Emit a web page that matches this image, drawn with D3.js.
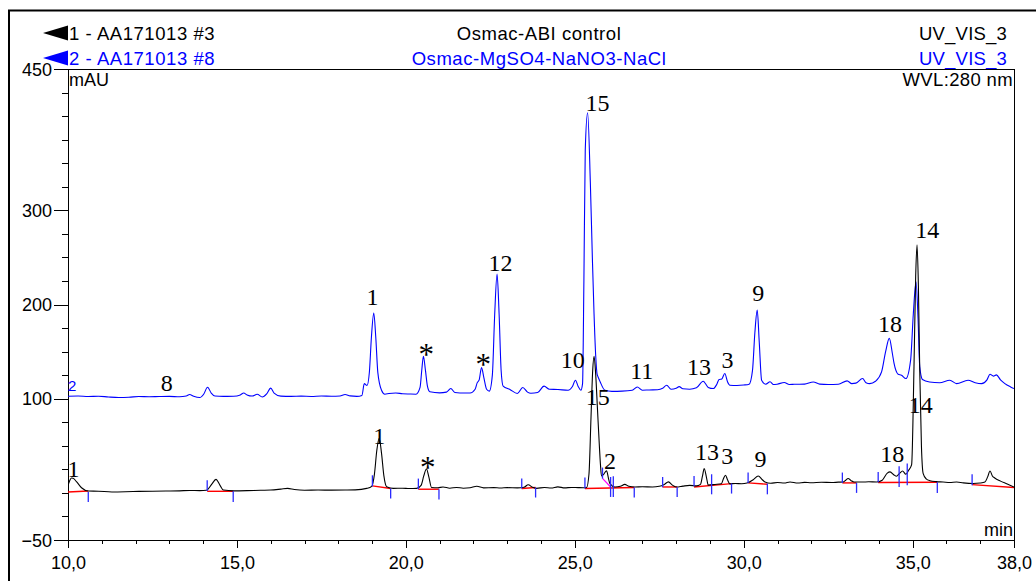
<!DOCTYPE html>
<html>
<head>
<meta charset="utf-8">
<script src="https://cdn.jsdelivr.net/npm/d3@7"></script>
<style>
  html, body { margin: 0; padding: 0; background: #fff; }
  svg { display: block; }
</style>
</head>
<body>
<svg id="chart" width="1036" height="581"></svg>
<script>
// ---------------- DATA ----------------
const headerRows = [
  { left: "1 - AA171013 #3", mid: "Osmac-ABI control", right: "UV_VIS_3", color: "#000000" },
  { left: "2 - AA171013 #8", mid: "Osmac-MgSO4-NaNO3-NaCl", right: "UV_VIS_3", color: "#0000ff" }
];
const yLabelTicks = [450, 300, 200, 100, -50];
const xLabelTicks = [10, 15, 20, 25, 30, 35, 38];

// trace 2 (blue, Osmac-MgSO4-NaNO3-NaCl): [min, mAU]
const trace2 = [
[10.0,102.6],[10.3,102.8],[10.6,102.3],[10.9,102.6],[11.2,101.8],[11.5,101.3],[11.8,101.5],[12.1,102.3],[12.4,102.0],[12.7,102.3],[13.0,102.5],[13.3,102.0],[13.5,102.8],[13.6,104.4],[13.72,102.5],[13.9,101.2],[14.02,105],[14.13,112.2],[14.24,106],[14.35,102.8],[14.6,102.5],[14.9,102.6],[15.1,104],[15.2,106],[15.3,104],[15.45,102.8],[15.6,104.7],[15.75,101.8],[15.88,105],[16.0,111.2],[16.1,106],[16.3,102.7],[16.6,102.5],[16.9,102.7],[17.2,102.4],[17.5,102.8],[17.8,102.6],[18.05,102.9],[18.2,104.5],[18.35,103],[18.55,102.5],[18.7,103.5],[18.77,116],[18.85,114],[18.92,128],[18.98,165],[19.05,191],[19.11,165],[19.17,128],[19.28,109],[19.38,104.8],[19.5,105.5],[19.7,106],[19.9,105.3],[20.1,105],[20.3,104.8],[20.42,112],[20.47,130],[20.52,145.1],[20.58,130],[20.64,113],[20.71,107.3],[21.0,106.2],[21.2,107],[21.33,110.8],[21.45,106.5],[21.6,106],[21.9,106],[22.05,110],[22.11,116.8],[22.17,120],[22.24,133],[22.31,122],[22.39,110],[22.47,108],[22.56,125],[22.63,190],[22.70,232.2],[22.76,190],[22.82,130],[22.88,113.3],[23.08,109.8],[23.3,105.5],[23.46,111.9],[23.6,107],[23.7,105.8],[23.9,106.5],[24.09,113.3],[24.25,110],[24.5,109.8],[24.8,109],[24.93,113],[25.02,119.6],[25.1,113],[25.18,109],[25.23,116],[25.27,226],[25.31,364],[25.38,403.6],[25.46,330],[25.52,250],[25.57,190],[25.62,145],[25.66,126],[25.69,123],[25.75,118],[25.89,109],[26.1,107.8],[26.4,108],[26.7,109],[26.85,112.5],[27.0,109],[27.2,109.3],[27.45,109.5],[27.6,111],[27.72,114.3],[27.85,110],[28.0,111],[28.09,112.8],[28.2,110.5],[28.4,110],[28.6,111.5],[28.8,118.6],[28.95,112],[29.1,110.8],[29.2,115],[29.27,120.4],[29.35,121],[29.44,126.7],[29.52,118],[29.59,114.3],[29.8,114],[30.0,114.5],[30.16,115.4],[30.26,130],[30.33,170],[30.40,194],[30.46,160],[30.53,119.6],[30.65,115.4],[30.78,118],[30.88,115],[30.99,115.4],[31.2,117.2],[31.35,115],[31.5,115.3],[31.8,115.5],[32.06,117.8],[32.25,115.5],[32.5,115.1],[32.8,115.3],[33.06,118.9],[33.2,116],[33.32,116.5],[33.52,121.4],[33.62,117],[33.73,116],[33.9,118.5],[34.08,128.4],[34.2,150],[34.31,164],[34.4,148],[34.45,137.4],[34.57,126],[34.67,125],[34.8,121.4],[34.94,141],[35.02,190],[35.10,224],[35.16,185],[35.21,134],[35.29,120.4],[35.5,117.8],[35.8,117],[36.1,119.6],[36.3,116],[36.64,119.6],[36.85,117],[37.04,116],[37.2,120],[37.29,126],[37.39,124],[37.48,125.3],[37.6,120],[37.73,116],[37.9,112.5],[38.0,110.8]
];

// trace 1 (black, Osmac-ABI control): [min, mAU]
const trace1 = [
[10.0,8],[10.05,13],[10.1,15.8],[10.15,15.5],[10.25,12],[10.4,5.5],[10.6,2.0],[10.9,1.8],[11.3,1.0],[11.7,1.2],[12.1,1.6],[12.5,1.8],[12.9,2.0],[13.3,2.2],[13.6,2.6],[13.9,2.4],[14.1,2.8],[14.25,9],[14.38,14.4],[14.5,8],[14.6,3.0],[14.9,2.2],[15.3,2.4],[15.7,2.8],[16.0,3.0],[16.3,4.0],[16.5,4.8],[16.7,3.6],[17.0,2.8],[17.4,3.0],[17.8,2.9],[18.2,3.0],[18.5,3.2],[18.84,4.8],[18.99,7],[19.07,20],[19.14,45],[19.21,58],[19.28,42],[19.35,18],[19.43,6.5],[19.63,4.8],[19.9,5],[20.1,4.6],[20.32,4.8],[20.45,8],[20.53,18],[20.61,25.3],[20.68,17],[20.76,5.8],[20.95,5.5],[21.1,6.3],[21.3,5],[21.5,5.8],[21.7,5],[21.9,5.5],[22.1,7],[22.3,5.3],[22.6,5.6],[22.8,5.2],[23.0,5.6],[23.3,5.3],[23.5,6],[23.62,8.7],[23.75,6],[23.87,4.8],[24.1,5.8],[24.3,5.2],[24.5,6.4],[24.7,5.3],[24.9,5.8],[25.1,5.6],[25.25,5.5],[25.35,5.8],[25.42,20],[25.48,80],[25.53,130],[25.57,145],[25.62,125],[25.67,90],[25.72,55],[25.76,30],[25.79,18],[25.86,20],[25.94,23.5],[26.0,15],[26.04,9.8],[26.19,6.2],[26.35,7],[26.48,9],[26.6,7],[26.78,6.2],[27.0,6.5],[27.3,6.3],[27.5,7],[27.65,9],[27.77,11.7],[27.9,8],[28.01,6.2],[28.2,7.2],[28.4,8],[28.6,7.5],[28.72,9],[28.78,18],[28.83,25.9],[28.9,16],[28.95,8.3],[29.15,9],[29.34,9.8],[29.4,15],[29.46,18.8],[29.52,14],[29.59,9.6],[29.75,10],[29.94,9.7],[30.1,10.5],[30.28,14],[30.43,17.9],[30.55,14],[30.63,11.6],[30.8,10.3],[31.0,11],[31.2,10.5],[31.37,11.6],[31.6,10.5],[31.8,11.2],[32.0,10.8],[32.3,11.3],[32.6,11],[32.8,11.4],[32.94,11.6],[33.02,13.5],[33.09,15.3],[33.18,13],[33.26,11.6],[33.5,11.5],[33.7,11.8],[33.93,11.6],[34.1,13.5],[34.25,21],[34.33,22.3],[34.45,19],[34.52,17.7],[34.62,21],[34.7,23.3],[34.8,19.8],[34.88,24],[34.97,30],[35.04,134],[35.09,230],[35.13,263.4],[35.17,220],[35.21,130],[35.26,50],[35.31,20.7],[35.4,15],[35.51,13],[35.7,12],[35.9,11.6],[36.1,11],[36.3,11.5],[36.5,10.6],[36.79,10],[37.0,10.5],[37.14,11.6],[37.22,17],[37.29,23.3],[37.36,18],[37.43,15.8],[37.6,12.5],[37.8,9.5],[38.0,6.2]
];

// integration baselines of trace 1: [tStart, vStart, tEnd, vEnd]
const baselines1 = [
[10.0,1.0,10.6,2.0],[14.12,1.7,14.89,1.7],[19.01,7.4,19.55,4.6],[20.37,3.9,20.98,3.9],
[23.43,4.6,23.84,5.7],[25.30,4.6,26.76,5.7],[27.60,6.3,28.03,6.3],[28.53,6.3,29.64,9.9],
[30.13,10.6,30.70,9.2],[32.92,10.6,33.34,10.6],[33.98,11.0,35.73,11.3],[36.76,8.8,38.0,5.7]
];
// peak delimiter marks of trace 1: [min, mAU from, mAU to]
const marks1 = [
[10.60,1.0,-9.6],[14.12,13.4,2.0],[14.89,1.7,-9.6],[19.01,18.7,7.0],[19.55,4.6,-6.0],
[20.37,15.2,3.9],[20.98,3.9,-7.1],[23.43,15.2,4.6],[23.84,5.7,-4.9],[25.30,16.3,4.6],
[25.82,26.9,15.2],[26.06,16.9,-4.3],[26.14,17.7,-4.3],[26.76,5.7,-4.9],[27.60,16.9,6.0],
[28.03,6.0,-4.3],[28.53,18.0,7.0],[29.05,19.8,-1.5],[29.64,9.9,-0.7],[30.13,21.6,10.6],
[30.70,9.9,-1.5],[32.92,21.6,10.6],[33.34,10.6,0.0],[33.98,22.2,11.3],[34.60,28.3,6.3],
[34.84,31.2,8.1],[35.73,11.3,0.0],[36.76,19.8,8.1]
];
// drop line between peaks 15 and 2: [t1, v1, t2, v2]
const dropLines1 = [[25.82,15.5,26.06,6.3]];

// peak labels: [text, min, mAU (baseline of label)]
const labels2 = [
["8",12.92,108.3],["1",19.01,199.3],["*",20.60,139.8],["*",22.29,129.2],["12",22.80,235.7],
["10",24.94,133.1],["15",25.67,405.4],["11",26.98,120.4],["13",28.68,125.0],["3",29.52,132.1],
["9",30.43,203.6],["18",34.33,170.9],["14",35.43,270.2]
];
const labels1 = [
["1",10.16,16.6],["1",19.21,52.4],["*",20.65,20.3],["15",25.68,93.5],["2",26.04,25.8],
["13",28.91,34.7],["3",29.51,31.2],["9",30.50,27.5],["18",34.40,32.9],["14",35.24,84.3]
];

// ---------------- DRAW ----------------
const svg = d3.select("#chart");
const L = 68, R = 1014, T = 69, B = 540;
const x = d3.scaleLinear().domain([10, 38]).range([L, R]);
const y = d3.scaleLinear().domain([-50, 450]).range([B, T]);
const SANS = "'Liberation Sans', Arial, sans-serif";
const SERIF = "'Liberation Serif', 'Times New Roman', serif";

// outer frame
svg.append("rect").attr("x", 9).attr("y", 10.5).attr("width", 1100).attr("height", 700)
  .attr("fill", "none").attr("stroke", "#000").attr("stroke-width", 2);

// header
headerRows.forEach((r, i) => {
  const by = 39.5 + i * 25;
  const cy = by - 6.5;
  svg.append("path").attr("d", `M43,${cy} L68,${cy - 7.5} L68,${cy + 7.5} Z`).attr("fill", r.color);
  const hf = `18.5px ${SANS}`;
  svg.append("text").attr("x", 69).attr("y", by).attr("fill", r.color)
    .style("font", hf).style("letter-spacing", "0.55px").text(r.left);
  svg.append("text").attr("x", 539).attr("y", by).attr("fill", r.color).attr("text-anchor", "middle")
    .style("font", hf).style("letter-spacing", "0.55px").text(r.mid);
  svg.append("text").attr("x", 1007).attr("y", by).attr("fill", r.color).attr("text-anchor", "end")
    .style("font", hf).style("letter-spacing", "0.2px").text(r.right);
});

// plot frame
svg.append("rect").attr("x", L).attr("y", T).attr("width", R - L).attr("height", B - T)
  .attr("fill", "none").attr("stroke", "#000").attr("stroke-width", 1).attr("shape-rendering", "crispEdges");

// axes
const fmtX = d => d.toFixed(1).replace(".", ",");
const minorX = d3.range(11, 38).filter(v => !xLabelTicks.includes(v));
const gxMinor = svg.append("g").attr("transform", `translate(0,${B})`)
  .call(d3.axisBottom(x).tickValues(minorX).tickSize(4).tickFormat(""));
const gxMajor = svg.append("g").attr("transform", `translate(0,${B})`)
  .call(d3.axisBottom(x).tickValues(xLabelTicks).tickSize(8).tickPadding(8).tickFormat(fmtX));
const minorY = d3.range(-25, 450, 25).filter(v => !yLabelTicks.includes(v));
const gyMinor = svg.append("g").attr("transform", `translate(${L},0)`)
  .call(d3.axisLeft(y).tickValues(minorY).tickSize(6).tickFormat(""));
const gyMajor = svg.append("g").attr("transform", `translate(${L},0)`)
  .call(d3.axisLeft(y).tickValues(yLabelTicks).tickSize(14).tickPadding(2).tickFormat(d3.format("d")));
[gxMinor, gxMajor, gyMinor, gyMajor].forEach(g => {
  g.select(".domain").remove();
  g.selectAll("line").attr("stroke", "#000").attr("shape-rendering", "crispEdges");
  g.selectAll("text").attr("fill", "#000").style("font", `18px ${SANS}`);
});
gyMajor.selectAll("text").attr("dy", "0.34em");

// unit texts
svg.append("text").attr("x", 69).attr("y", 86).style("font", `18px ${SANS}`).text("mAU");
svg.append("text").attr("x", R - 1).attr("y", 86).attr("text-anchor", "end")
  .style("font", `18.5px ${SANS}`).style("letter-spacing", "0.35px").text("WVL:280 nm");
svg.append("text").attr("x", R - 1).attr("y", 536).attr("text-anchor", "end").style("font", `18px ${SANS}`).text("min");

// clip
svg.append("clipPath").attr("id", "clip").append("rect")
  .attr("x", L).attr("y", T).attr("width", R - L).attr("height", B - T);
const plot = svg.append("g").attr("clip-path", "url(#clip)");

const line = d3.line().x(d => x(d[0])).y(d => y(d[1])).curve(d3.curveMonotoneX);

// trace label "2"
svg.append("text").attr("x", 68).attr("y", 391).attr("fill", "#0000ff")
  .style("font", `15px ${SANS}`).text("2");

// baselines (red)
plot.selectAll("line.bl").data(baselines1).join("line").attr("class", "bl")
  .attr("x1", d => x(d[0])).attr("y1", d => y(d[1])).attr("x2", d => x(d[2])).attr("y2", d => y(d[3]))
  .attr("stroke", "#ff0000").attr("stroke-width", 1.4);
plot.selectAll("line.dl").data(dropLines1).join("line").attr("class", "dl")
  .attr("x1", d => x(d[0])).attr("y1", d => y(d[1])).attr("x2", d => x(d[2])).attr("y2", d => y(d[3]))
  .attr("stroke", "#ff00ff").attr("stroke-width", 1.2);

// traces
plot.append("path").datum(trace2).attr("d", line).attr("fill", "none")
  .attr("stroke", "#0000ff").attr("stroke-width", 1.1);
plot.append("path").datum(trace1).attr("d", line).attr("fill", "none")
  .attr("stroke", "#000000").attr("stroke-width", 1.1);

// delimiter marks
plot.selectAll("line.mk").data(marks1).join("line").attr("class", "mk")
  .attr("x1", d => x(d[0])).attr("x2", d => x(d[0]))
  .attr("y1", d => y(d[1])).attr("y2", d => y(d[2]))
  .attr("stroke", "#2a2aff").attr("stroke-width", 1.3);

// peak labels
const allLabels = labels2.concat(labels1);
svg.selectAll("text.pk").data(allLabels).join("text").attr("class", "pk")
  .attr("x", d => x(d[1])).attr("y", d => y(d[2]) + (d[0] === "*" ? 4 : 0)).attr("text-anchor", "middle")
  .attr("fill", "#000").style("font", d => `${d[0] === "*" ? 31 : 24}px ${SERIF}`).text(d => d[0]);
</script>
</body>
</html>
